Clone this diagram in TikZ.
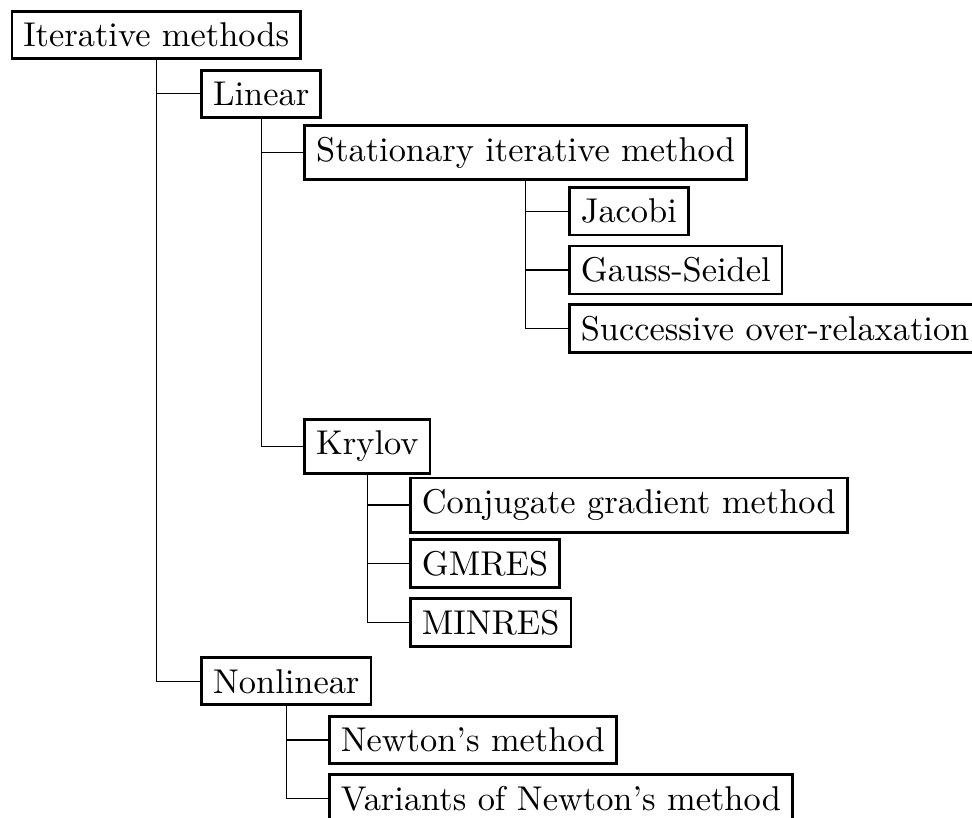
\documentclass[tikz,border=0pt]{standalone}
\begin{document}
\begin{tikzpicture}[x=0.2907pt, y=-0.2907pt,
  item/.style={draw, thick, anchor=west, inner sep=3.33pt},
  link/.style={thin}]
\useasboundingbox (0,0) rectangle (972,818);
\clip (0,0) rectangle (972,818);

% root
\node[item] (root) at (10.5,35) {Iterative methods};

% first level
\node[item] (lin) at (200.3,93.75) {Linear};
\node[item] (nonlin) at (200.3,681.25) {Nonlinear};

% linear methods
\node[item] (stat) at (303.3,152.5) {Stationary iterative method};
\node[item] (kry) at (303.3,446.25) {Krylov};

\node[item] (jac) at (568,211.25) {Jacobi};
\node[item] (gs)  at (568,270) {Gauss-Seidel};
\node[item] (sor) at (568,328.75) {Successive over-relaxation};

\node[item] (cg)  at (409,505) {Conjugate gradient method};
\node[item] (gmr) at (409,563.75) {GMRES};
\node[item] (mnr) at (409,622.5) {MINRES};

% nonlinear methods
\node[item] (newt) at (328,740) {Newton's method};
\node[item] (vnewt) at (328,798.75) {Variants of Newton's method};

% connectors
\foreach \p/\c in {root/lin, root/nonlin, lin/stat, lin/kry,
                   stat/jac, stat/gs, stat/sor,
                   kry/cg, kry/gmr, kry/mnr,
                   nonlin/newt, nonlin/vnewt}
  \draw[link] (\p.south) |- (\c.west);
\end{tikzpicture}
\end{document}
